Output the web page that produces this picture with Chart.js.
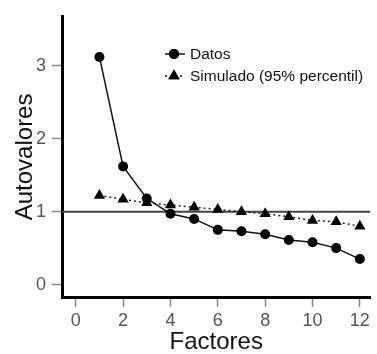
<!DOCTYPE html>
<html>
<head>
<meta charset="utf-8">
<script src="https://cdn.jsdelivr.net/npm/chart.js@4/dist/chart.umd.min.js"></script>
<style>
  html, body { margin: 0; padding: 0; background: #fff; }
  #wrap { width: 377px; height: 354px; position: relative; }
</style>
</head>
<body>
<div id="wrap"><canvas id="screeChart"></canvas></div>
<script>
// data
var factores = [1, 2, 3, 4, 5, 6, 7, 8, 9, 10, 11, 12];
var datos = [3.12, 1.62, 1.18, 0.97, 0.90, 0.75, 0.73, 0.69, 0.61, 0.58, 0.50, 0.35];
var simulado = [1.22, 1.17, 1.12, 1.09, 1.06, 1.03, 1.00, 0.97, 0.93, 0.88, 0.86, 0.80];
var xTicks = [0, 2, 4, 6, 8, 10, 12];
var yTicks = [0, 1, 2, 3];
var legendLabels = ['Datos', 'Simulado (95% percentil)'];
var umbral = 1;

var xMin = -0.58, xMax = 12.45;
var yMin = -0.17, yMax = 3.67;

var font = '"Liberation Sans", Arial, Helvetica, sans-serif';

// legend drawn by hand so the line shows next to the marker
var legendPlugin = {
    id: 'lineLegend',
    afterDraw: function(chart) {
        var ctx = chart.ctx;
        var rows = [
            { y: 54, dash: [], style: 'circle', text: legendLabels[0] },
            { y: 76, dash: [2, 3], style: 'triangle', text: legendLabels[1] }
        ];
        ctx.save();
        rows.forEach(function(r) {
            ctx.strokeStyle = '#111';
            ctx.lineWidth = 1.5;
            ctx.setLineDash(r.dash);
            ctx.beginPath();
            ctx.moveTo(165, r.y);
            ctx.lineTo(185, r.y);
            ctx.stroke();
            ctx.setLineDash([]);
            ctx.fillStyle = '#000';
            Chart.helpers.drawPoint(ctx, { pointStyle: r.style, radius: r.style === 'circle' ? 5 : 6.5, borderWidth: 0 }, 174, r.y);
            ctx.fill();
            ctx.fillStyle = '#111';
            ctx.font = '15.5px ' + font;
            ctx.textBaseline = 'middle';
            ctx.textAlign = 'left';
            ctx.fillText(r.text, 190, r.y + 1);
        });
        ctx.restore();
    }
};

document.addEventListener('DOMContentLoaded', function() {
    var ctx = document.getElementById('screeChart').getContext('2d');

    new Chart(ctx, {
        type: 'line',
        data: {
            datasets: [{
                label: 'umbral',
                data: [{ x: xMin, y: umbral }, { x: xMax, y: umbral }],
                borderColor: '#444',
                borderWidth: 2,
                pointRadius: 0,
                order: 3
            }, {
                label: legendLabels[1],
                data: factores.map(function(f, i) { return { x: f, y: simulado[i] }; }),
                borderColor: '#222',
                borderWidth: 1.5,
                borderDash: [2, 3],
                pointStyle: 'triangle',
                pointRadius: 6.5,
                pointBackgroundColor: '#000',
                pointBorderColor: '#000',
                pointBorderWidth: 0,
                order: 2
            }, {
                label: legendLabels[0],
                data: factores.map(function(f, i) { return { x: f, y: datos[i] }; }),
                borderColor: '#111',
                borderWidth: 1.5,
                pointStyle: 'circle',
                pointRadius: 5,
                pointBackgroundColor: '#000',
                pointBorderColor: '#000',
                pointBorderWidth: 0,
                order: 1
            }]
        },
        options: {
            responsive: true,
            maintainAspectRatio: false,
            animation: false,
            layout: { padding: { top: 13, right: 0, left: 0, bottom: 0 } },
            plugins: {
                legend: { display: false },
                tooltip: { enabled: false }
            },
            scales: {
                x: {
                    type: 'linear',
                    min: xMin,
                    max: xMax,
                    afterBuildTicks: function(axis) {
                        axis.ticks = xTicks.map(function(v) { return { value: v }; });
                    },
                    afterFit: function(axis) { axis.height = 57; },
                    grid: {
                        drawOnChartArea: false,
                        tickLength: 10,
                        tickColor: '#888',
                        tickWidth: 1.5
                    },
                    border: { color: '#000', width: 3 },
                    ticks: {
                        color: '#555',
                        padding: 3,
                        maxRotation: 0,
                        font: { family: font, size: 18 }
                    },
                    title: {
                        display: true,
                        text: 'Factores',
                        color: '#111',
                        padding: { top: 0, bottom: -3 },
                        font: { family: font, size: 24 }
                    }
                },
                y: {
                    min: yMin,
                    max: yMax,
                    afterBuildTicks: function(axis) {
                        axis.ticks = yTicks.map(function(v) { return { value: v }; });
                    },
                    afterFit: function(axis) { axis.width = 62; },
                    grid: {
                        drawOnChartArea: false,
                        tickLength: 10,
                        tickColor: '#888',
                        tickWidth: 1.5
                    },
                    border: { color: '#000', width: 3 },
                    ticks: {
                        color: '#555',
                        padding: 6,
                        font: { family: font, size: 18 }
                    },
                    title: {
                        display: true,
                        text: 'Autovalores',
                        color: '#111',
                        padding: { top: 11, bottom: 0 },
                        font: { family: font, size: 24 }
                    }
                }
            }
        },
        plugins: [legendPlugin]
    });
});
</script>
</body>
</html>
